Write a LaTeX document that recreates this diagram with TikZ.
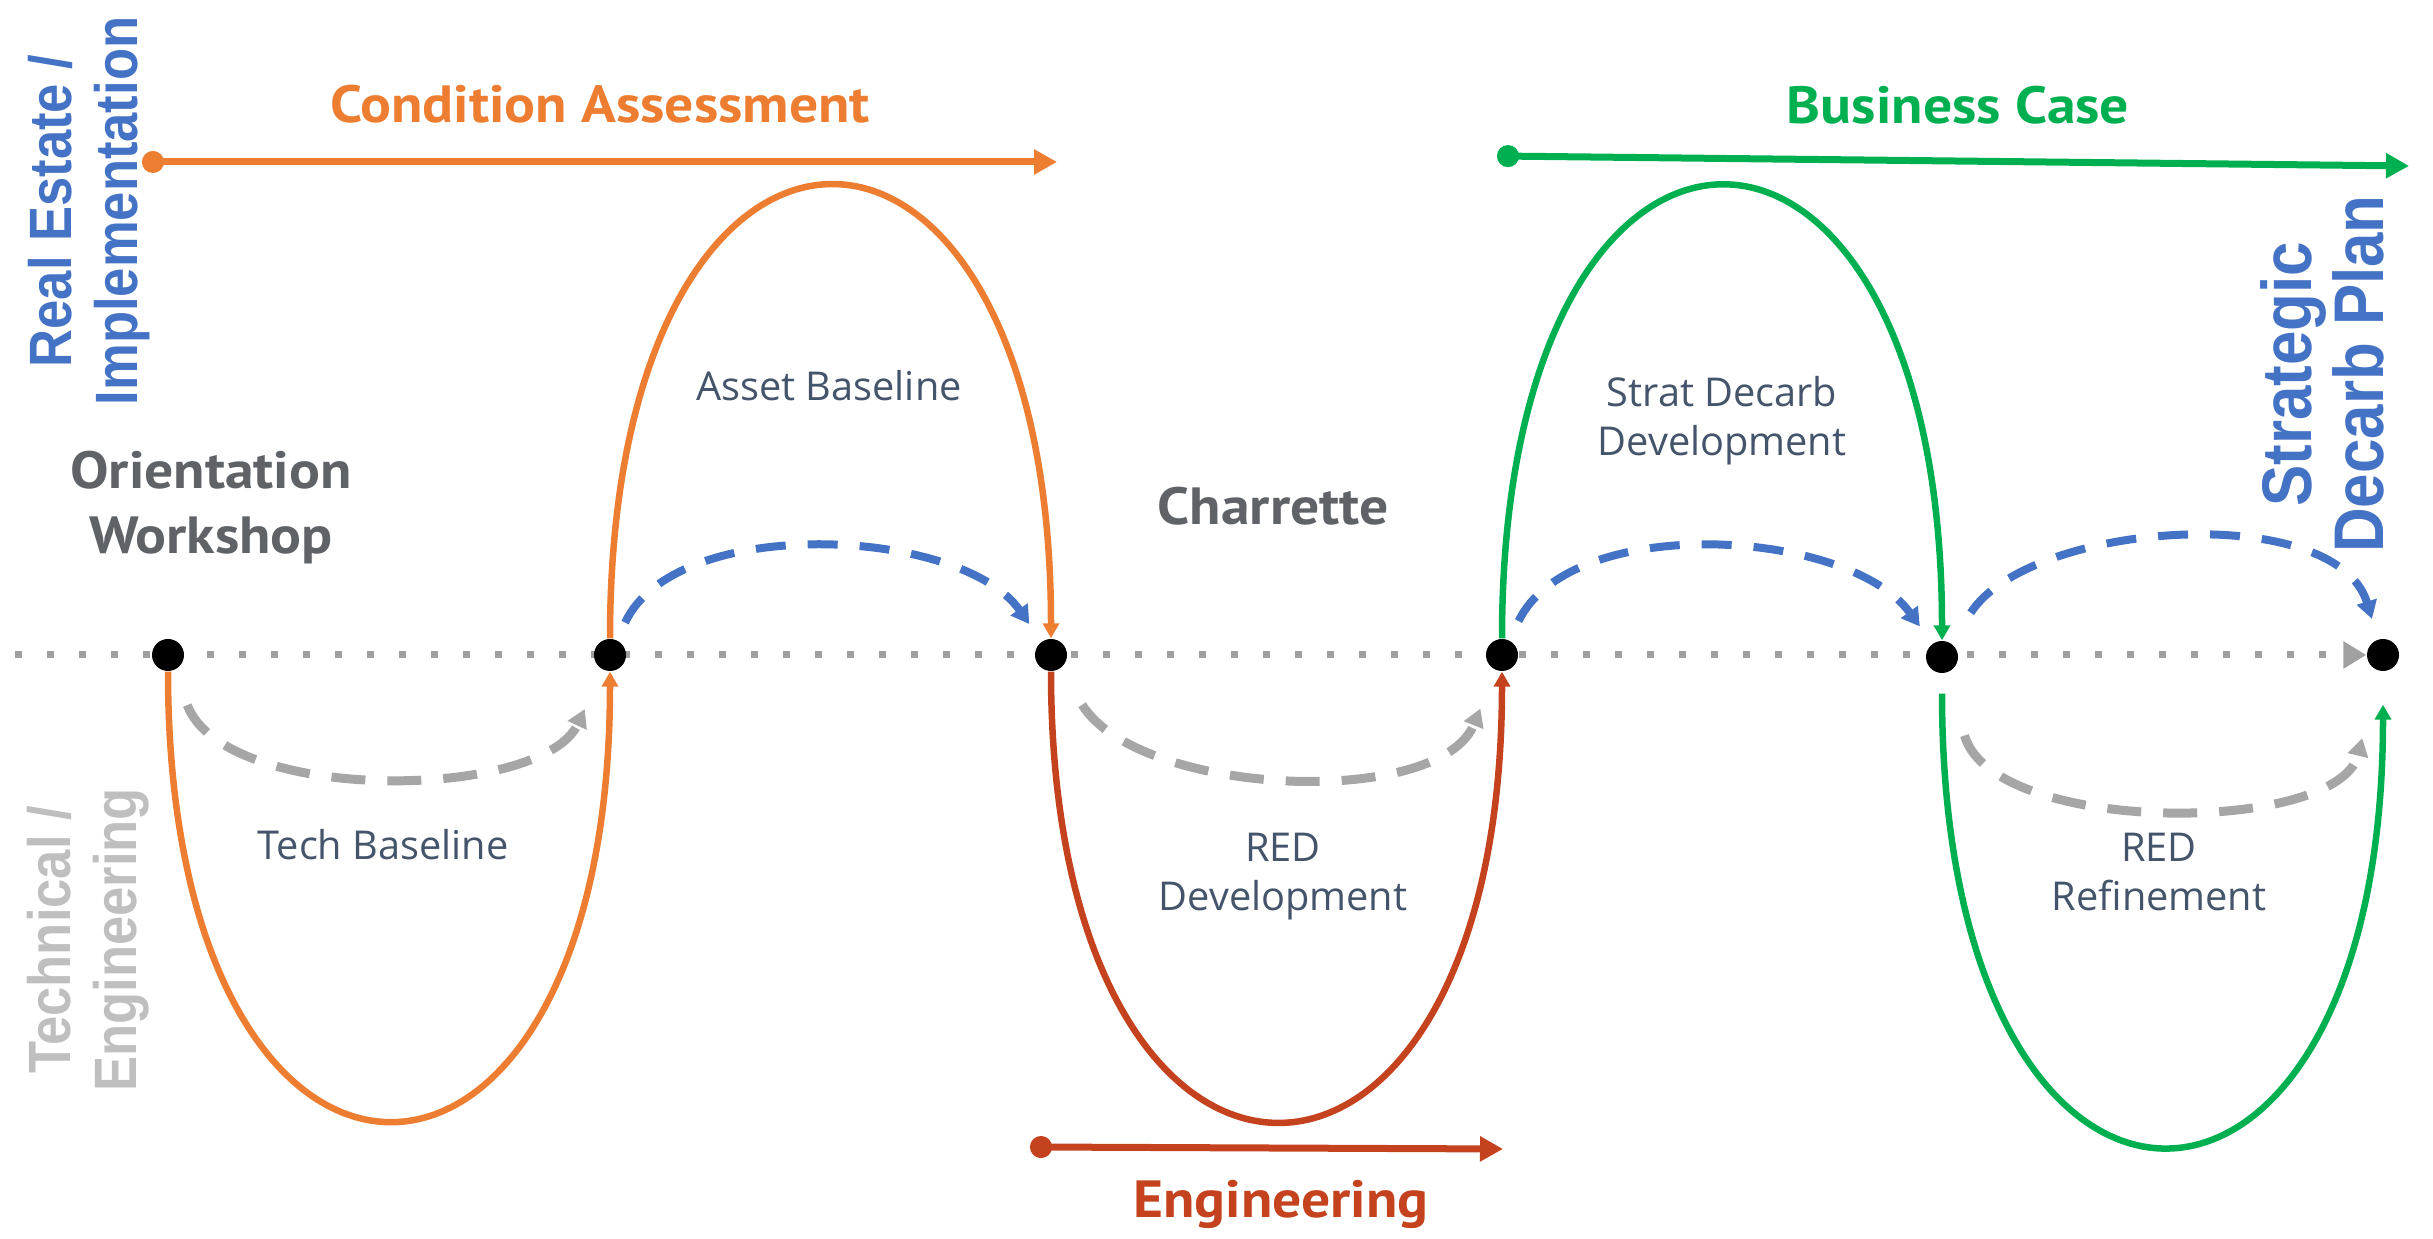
\documentclass[tikz,border=0pt]{standalone}
\usepackage{fontspec}
\setmainfont{Open Sans}
\newfontfamily\headfont[FakeStretch=1.1]{PT Sans}
\newfontfamily\sidefont[FakeStretch=0.88]{Liberation Sans}
\usetikzlibrary{arrows.meta,backgrounds}

\definecolor{caorange}{HTML}{ED7D31}
\definecolor{engred}{HTML}{C4421E}
\definecolor{bcgreen}{HTML}{00B050}
\definecolor{sideblue}{HTML}{4472C4}
\definecolor{sidegray}{HTML}{BFBFBF}
\definecolor{headgray}{HTML}{5F6368}
\definecolor{labgray}{HTML}{44546A}
\definecolor{axisgray}{HTML}{A0A0A0}
\definecolor{hopgray}{HTML}{A6A6A6}

\tikzset{
  dot/.style={circle, fill=black, inner sep=0pt, minimum size=0.32cm},
  phase/.style={line width=0.065cm, -{Triangle[length=0.15cm,width=0.16cm]}},
  hop/.style={line width=0.08cm, dash pattern=on 0.3cm off 0.22cm, -{Triangle[length=0.18cm,width=0.2cm]}},
  lowhop/.style={hop, hopgray, line width=0.09cm, dash pattern=on 0.34cm off 0.22cm},
  track/.style={line width=0.07cm, {Circle[length=0.22cm]}-{Triangle[length=0.23cm,width=0.24cm]}},
  axis/.style={axisgray, line width=0.07cm, dash pattern=on 0.07cm off 0.25cm, -{Triangle[length=0.23cm,width=0.26cm]}},
  head/.style={font=\headfont\bfseries\fontsize{14.9}{18.5}\selectfont, align=center},
  lab/.style={font=\fontsize{11.3}{13.9}\selectfont, text=labgray, align=center},
  side/.style={font=\sidefont\bfseries\fontsize{17}{18.8}\selectfont, rotate=90, align=center}
}

\begin{document}
\begin{tikzpicture}
        \useasboundingbox (0,0) rectangle (24.33,12.39);
        % milestones on the axis
        \node [dot] (n1) at (1.68,5.84) {};
        \node [dot] (n2) at (6.10,5.84) {};
        \node [dot] (n3) at (10.51,5.84) {};
        \node [dot] (n4) at (15.02,5.84) {};
        \node [dot] (n5) at (19.42,5.82) {};
        \node [dot] (n6) at (23.83,5.84) {};
        \coordinate (ax) at (0.15,5.84);
        \begin{scope}[on background layer]
            \draw [axis] (ax) -- (n6);
        \end{scope}

        % phases
        \draw [phase, caorange] (n1) .. controls +(0,-6.15) and +(0,-6.15) .. (n2);
        \draw [phase, caorange] (n2) .. controls +(0,6.2) and +(0,6.2) .. (n3);
        \draw [phase, engred] (n3) .. controls +(0,-6.16) and +(0,-6.16) .. (n4);
        \draw [phase, bcgreen] (n4) .. controls +(0,6.21) and +(0,6.21) .. (n5);
        \draw [phase, bcgreen, shorten <=0.2cm, shorten >=0.33cm] (n5) .. controls +(0,-6.4) and +(0,-6.4) .. (n6);

        % short hops
        \draw [hop, sideblue, shorten <=0.19cm, shorten >=0.21cm] (n2) to [out=65, in=125, looseness=0.84] (n3);
        \draw [hop, sideblue, shorten <=0.21cm, shorten >=0.21cm] (n4) to [out=64, in=126, looseness=0.86] (n5);
        \draw [hop, sideblue, shorten <=0.36cm, shorten >=0.21cm] (n5) to [out=57, in=107, looseness=0.87] (n6);
        \draw [lowhop, shorten <=0.37cm, shorten >=0.43cm] (n1) to [out=-69, in=-115, looseness=0.86] (n2);
        \draw [lowhop, shorten <=0.42cm, shorten >=0.41cm] (n3) to [out=-58, in=-112, looseness=0.88] (n4);
        \draw [lowhop, shorten <=0.65cm, shorten >=0.69cm] (n5) to [out=-74, in=-104, looseness=1.0] (n6);

        % tracks
        \coordinate (caS) at (1.42,10.77);
        \coordinate (caE) at (10.57,10.77);
        \coordinate (bcS) at (14.97,10.83);
        \coordinate (bcE) at (24.09,10.73);
        \coordinate (enS) at (10.30,0.92);
        \coordinate (enE) at (15.03,0.90);
        \draw [track, caorange] (caS) -- (caE);
        \draw [track, bcgreen] (bcS) -- (bcE);
        \draw [track, engred] (enS) -- (enE);

        % titles
        \node [head, text=caorange, anchor=base] (ca) at (6.00,11.16) {Condition Assessment};
        \node [head, text=bcgreen, anchor=base] (bc) at (19.58,11.15) {Business Case};
        \node [head, text=engred, anchor=base] (eng) at (12.81,0.21) {Engineering};
        \node [head, text=headgray] (ow) at (2.11,7.31) {Orientation\\Workshop};
        \node [head, text=headgray, anchor=base] (ch) at (12.73,7.14) {Charrette};

        % phase labels
        \node [lab] (ab) at (8.29,8.53) {Asset Baseline};
        \node [lab] (tb) at (3.83,3.94) {Tech Baseline};
        \node [lab] (sd) at (17.22,8.18) {Strat Decarb\\Development};
        \node [lab] (rd) at (12.83,3.62) {RED\\Development};
        \node [lab] (rr) at (21.59,3.67) {RED\\Refinement};

        % side labels
        \node [side, text=sideblue] (re) at (0.895,10.28) {Real Estate /\\Implementation};
        \node [side, text=sidegray] (te) at (0.88,2.99) {Technical /\\Engineering};
        \node [side, text=sideblue, font=\sidefont\bfseries\fontsize{20}{20.5}\selectfont] (sp) at (23.22,8.65) {Strategic\\Decarb Plan};
\end{tikzpicture}
\end{document}
